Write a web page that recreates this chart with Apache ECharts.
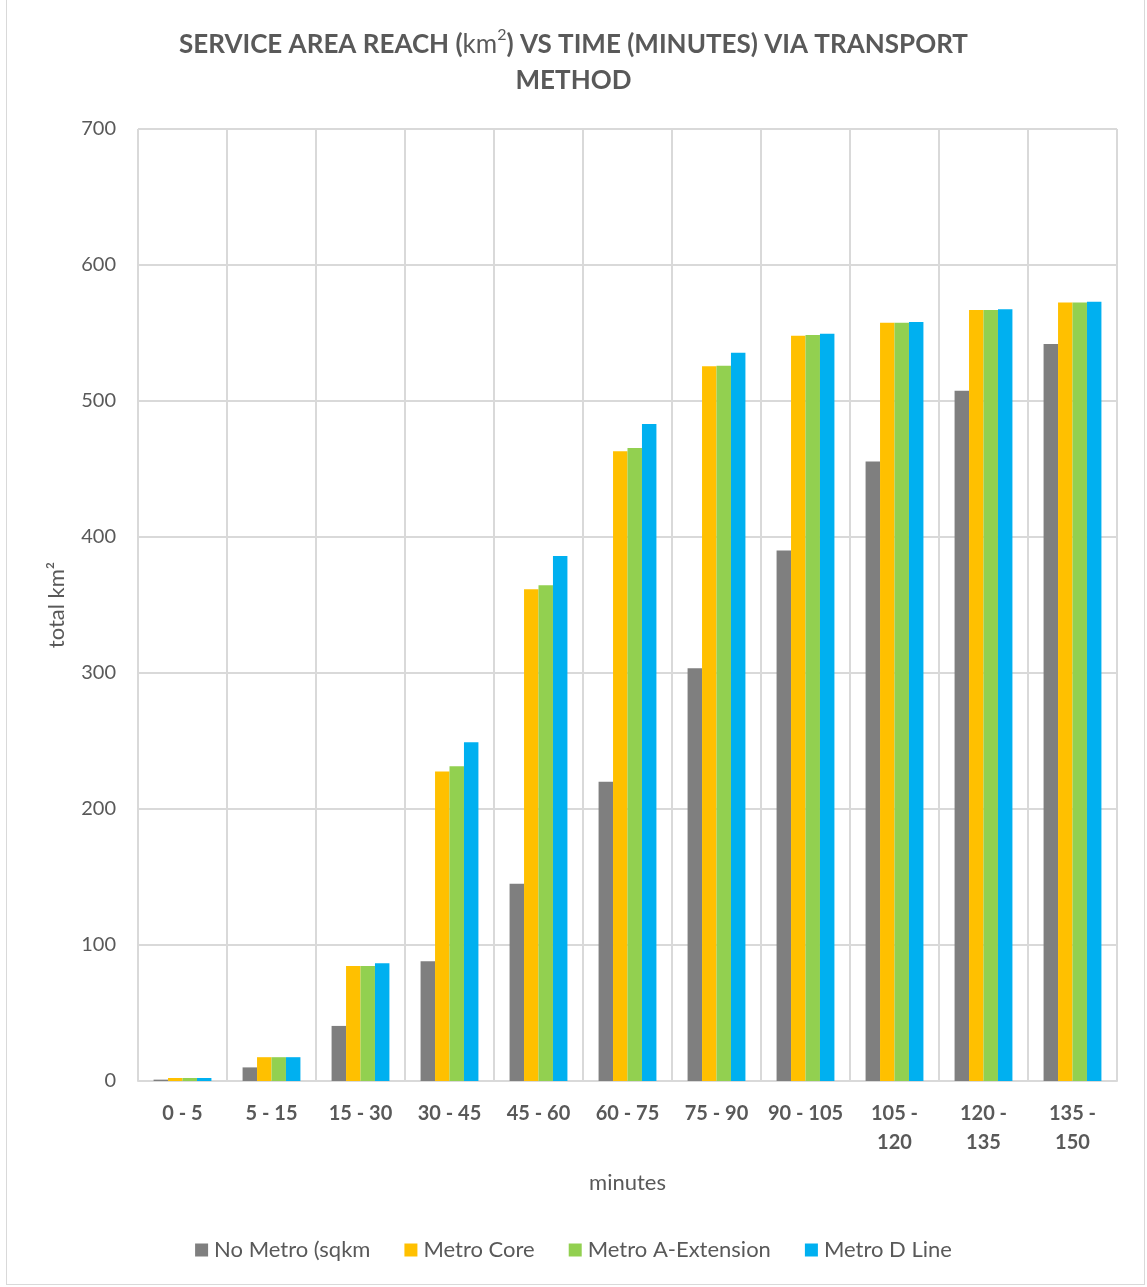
<!DOCTYPE html>
<html><head><meta charset="utf-8">
<script src="https://cdn.jsdelivr.net/npm/echarts@6/dist/echarts.min.js"></script>
<style>
html,body{margin:0;padding:0;background:#fff;}
#wrap{position:absolute;left:6px;top:-1px;width:1139px;height:1286px;border:1px solid #d9d9d9;box-sizing:border-box;}
#c{position:absolute;left:0;top:0;width:1147px;height:1287px;}
</style></head>
<body>
<div id="wrap"></div>
<div id="c"></div>
<script>
const categories = ['0 - 5','5 - 15','15 - 30','30 - 45','45 - 60','60 - 75','75 - 90','90 - 105','105 - 120','120 - 135','135 - 150'];
const noMetro = [1, 10, 40.5, 88, 145, 220, 303.5, 390, 455.5, 507.5, 542];
const metroCore = [2.2, 17.5, 84.5, 227.5, 361.5, 463, 525.5, 548, 557.5, 567, 572.5];
const metroAExt = [2.2, 17.5, 84.5, 231.5, 364.5, 465.5, 526, 548.5, 557.5, 567, 572.5];
const metroDLine = [2.2, 17.5, 86.5, 249, 386, 483, 535.5, 549.5, 558, 567.5, 573];
const seriesNames = ['No Metro (sqkm', 'Metro Core', 'Metro A-Extension', 'Metro D Line'];
const colors = ['#7f7f7f', '#ffc000', '#92d050', '#00b0f0'];
const yTicks = {min: 0, max: 700, interval: 100};

const FONT = 'Lato, "Open Sans", sans-serif';
const chart = echarts.init(document.getElementById('c'), null, {renderer: 'canvas'});
const data = [noMetro, metroCore, metroAExt, metroDLine];
chart.setOption({
  animation: false,
  backgroundColor: 'transparent',
  title: {
    text: '{b|SERVICE AREA REACH (}{n|km}{s|2}{b|) VS TIME (MINUTES) VIA TRANSPORT}\n{b|METHOD}',
    left: 'center', top: 22,
    textStyle: {
      rich: {
        b: {fontFamily: FONT, fontSize: 26, fontWeight: 'bold', color: '#595959', lineHeight: 36},
        n: {fontFamily: FONT, fontSize: 26, fontWeight: 'normal', color: '#595959', lineHeight: 36},
        s: {fontFamily: FONT, fontSize: 16, fontWeight: 'normal', color: '#595959', verticalAlign: 'top', lineHeight: 36, padding: [0,0,10,0]}
      }
    }
  },
  legend: {
    bottom: 21, left: 'center',
    itemWidth: 13, itemHeight: 13, itemGap: 34,
    icon: 'rect',
    textStyle: {fontFamily: FONT, fontSize: 22, color: '#595959', padding: [0,0,0,1]},
    data: seriesNames
  },
  grid: {left: 138, right: 30, top: 129, bottom: 206, containLabel: false},
  xAxis: {
    type: 'category', data: categories,
    name: 'minutes', nameLocation: 'middle', nameGap: 91,
    nameTextStyle: {fontFamily: FONT, fontSize: 22, color: '#595959'},
    axisLine: {lineStyle: {color: '#d9d9d9', width: 2}},
    axisTick: {show: false},
    splitLine: {show: true, lineStyle: {color: '#d9d9d9', width: 2}},
    axisLabel: {
      fontFamily: FONT, fontSize: 20, fontWeight: 'bold', color: '#595959', margin: 18, lineHeight: 29, interval: 0,
      formatter: v => v.length > 8 ? v.replace(' - ', ' -\n') : v
    }
  },
  yAxis: {
    type: 'value', min: yTicks.min, max: yTicks.max, interval: yTicks.interval,
    name: 'total km²', nameLocation: 'middle', nameGap: 70, nameRotate: 90,
    nameTextStyle: {fontFamily: FONT, fontSize: 22, color: '#595959'},
    axisLine: {show: false}, axisTick: {show: false},
    splitLine: {lineStyle: {color: '#d9d9d9', width: 2}},
    axisLabel: {fontFamily: FONT, fontSize: 20, color: '#595959', margin: 22}
  },
  series: data.map((d, i) => ({
    name: seriesNames[i], type: 'bar', data: d,
    barGap: '0%', barCategoryGap: '35%',
    itemStyle: {color: colors[i]}
  }))
});
</script>
</body></html>
